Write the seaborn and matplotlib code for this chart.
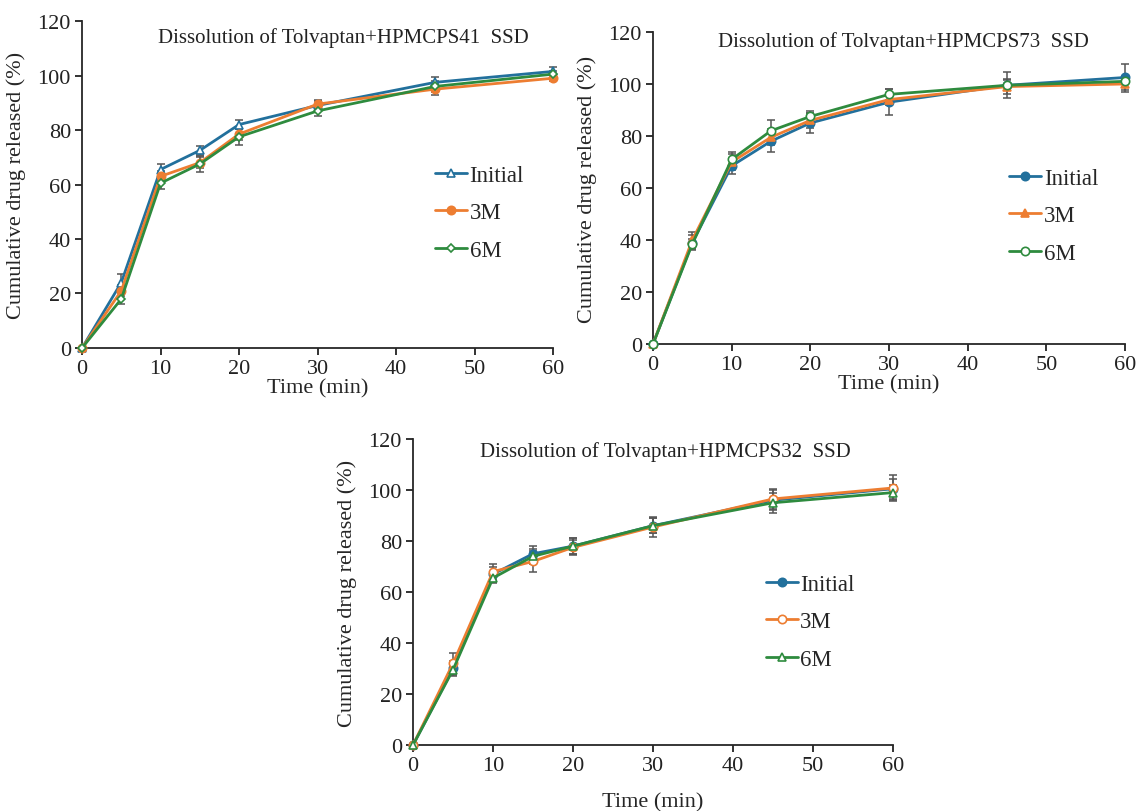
import seaborn as sns
import matplotlib.pyplot as plt

# sampling times (min)
time = [0, 5, 10, 15, 20, 30, 45, 60]
series = ['Initial', '3M', '6M']

# HPMCPS41 SSD
s41_initial = [0, 24, 65.5, 72.5, 82, 89, 97.5, 101.5]
s41_3m = [0, 21, 63, 68, 78.5, 89.5, 95, 99]
s41_6m = [0, 18, 60.5, 67.5, 77.5, 87, 96, 100.5]
s41_initial_sd = [0, 3, 2, 1.5, 1.5, 1.5, 2, 1.5]
s41_3m_sd = [0, 2, 2, 2, 2, 1.5, 2, 1]
s41_6m_sd = [0, 2, 2, 3, 3, 2, 2, 1]

# HPMCPS73 SSD
s73_initial = [0, 39, 68.5, 78, 85, 93, 99.5, 102.5]
s73_3m = [0, 40, 70, 79.5, 86, 94, 99, 100]
s73_6m = [0, 38.5, 71, 82, 87.5, 96, 99.5, 101]
s73_initial_sd = [0, 3, 3, 4, 4, 5, 5, 5]
s73_3m_sd = [0, 3, 3, 3, 3, 2, 3, 3]
s73_6m_sd = [0, 2, 3, 4, 2, 2, 2, 2]

# HPMCPS32 SSD
s32_initial = [0, 30, 67, 75, 78, 86, 96, 100.5]
s32_3m = [0, 32, 68, 72, 77.5, 85.5, 96.5, 100.8]
s32_6m = [0, 29.5, 65.5, 74, 78, 86, 95, 99]
s32_initial_sd = [0, 3, 3, 3, 3, 3, 4, 4]
s32_3m_sd = [0, 4, 3, 4, 3, 4, 4, 5]
s32_6m_sd = [0, 2, 2, 3, 3, 3, 4, 3]

colors = ['#22709c', '#ed7d31', '#2e8b3e']

sns.set_style('ticks')
plt.rcParams['font.family'] = ['Liberation Serif', 'DejaVu Serif']
plt.rcParams['axes.linewidth'] = 1.3

fig = plt.figure(figsize=(11.41, 8.12), dpi=100)
ax1 = fig.add_axes([0.0719, 0.5702, 0.4128, 0.4027])
ax2 = fig.add_axes([0.5723, 0.5751, 0.4137, 0.3843])
ax3 = fig.add_axes([0.362, 0.0813, 0.4207, 0.3768])

# axis, title, values, sd, (marker, filled), title pos, legend pos, xlabel pad
panels = [
    (ax1, 'Dissolution of Tolvaptan+HPMCPS41  SSD',
     [s41_initial, s41_3m, s41_6m], [s41_initial_sd, s41_3m_sd, s41_6m_sd],
     [('^', False), ('o', True), ('D', False)], (0.555, 0.95), (0.75, 0.56), 0),
    (ax2, 'Dissolution of Tolvaptan+HPMCPS73  SSD',
     [s73_initial, s73_3m, s73_6m], [s73_initial_sd, s73_3m_sd, s73_6m_sd],
     [('o', True), ('^', True), ('o', False)], (0.53, 0.97), (0.755, 0.565), 0),
    (ax3, 'Dissolution of Tolvaptan+HPMCPS32  SSD',
     [s32_initial, s32_3m, s32_6m], [s32_initial_sd, s32_3m_sd, s32_6m_sd],
     [('o', True), ('o', False), ('^', False)], (0.525, 0.96), (0.735, 0.56), 12),
]

for ax, title, vals, sds, marks, tpos, lpos, xpad in panels:
    for name, y, sd, c, (m, filled) in zip(series, vals, sds, colors, marks):
        ax.errorbar(time, y, yerr=sd, fmt='none', ecolor='#555555',
                    elinewidth=1.1, capsize=3, capthick=1.1, zorder=2, clip_on=False)
        ms = 4.5 if m == 'D' else 6
        sns.lineplot(x=time, y=y, ax=ax, color=c, lw=2.0, marker=m, markersize=ms,
                     markerfacecolor=c if filled else 'white', markeredgecolor=c,
                     markeredgewidth=1.2, label=name, zorder=3, clip_on=False)
    ax.set_xlim(0, 60)
    ax.set_ylim(0, 120)
    ax.set_xticks(range(0, 61, 10))
    ax.set_yticks(range(0, 121, 20))
    ax.tick_params(labelsize=16, length=5, width=1.3, pad=3, colors='#222222')
    ax.set_xlabel('Time (min)', fontsize=16, labelpad=xpad)
    ax.set_ylabel('Cumulative drug released (%)', fontsize=16, labelpad=8)
    ax.text(tpos[0], tpos[1], title, transform=ax.transAxes, ha='center',
            va='center', fontsize=15, color='#222222')
    ax.legend(loc='upper left', bbox_to_anchor=lpos, frameon=False, fontsize=16.5,
              labelspacing=0.72, handlelength=1.4, handletextpad=0.1,
              borderpad=0, borderaxespad=0)
    sns.despine(ax=ax)

fig.savefig('out.png', dpi=100)
